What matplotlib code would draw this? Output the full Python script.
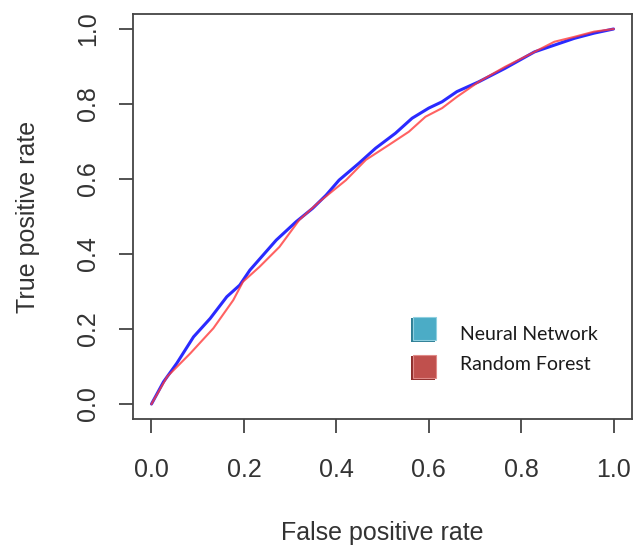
import matplotlib
matplotlib.use("Agg")
import matplotlib.pyplot as plt
from matplotlib.patches import Rectangle

# ROC curve values
nn_fpr = [0.0, 0.026, 0.055, 0.091, 0.127, 0.163, 0.191, 0.213, 0.270, 0.313,
          0.349, 0.378, 0.406, 0.449, 0.485, 0.528, 0.564, 0.600, 0.629, 0.661,
          0.708, 0.765, 0.829, 0.872, 0.915, 0.958, 1.0]
nn_tpr = [0.0, 0.059, 0.109, 0.179, 0.228, 0.286, 0.317, 0.357, 0.437, 0.486,
          0.522, 0.557, 0.597, 0.642, 0.682, 0.722, 0.762, 0.789, 0.806, 0.833,
          0.859, 0.895, 0.939, 0.957, 0.975, 0.989, 1.0]

rf_fpr = [0.0, 0.034, 0.084, 0.134, 0.177, 0.198, 0.234, 0.277, 0.320, 0.363,
          0.421, 0.464, 0.514, 0.557, 0.593, 0.629, 0.661, 0.708, 0.765, 0.829,
          0.872, 0.915, 0.958, 1.0]
rf_tpr = [0.0, 0.073, 0.135, 0.202, 0.277, 0.326, 0.366, 0.419, 0.491, 0.539,
          0.597, 0.651, 0.691, 0.726, 0.766, 0.789, 0.819, 0.859, 0.899, 0.939,
          0.966, 0.979, 0.993, 1.0]

ticks = [0.0, 0.2, 0.4, 0.6, 0.8, 1.0]
tick_labels = ["0.0", "0.2", "0.4", "0.6", "0.8", "1.0"]
legend_names = ["Neural Network", "Random Forest"]

W, H = 634, 545
fig = plt.figure(figsize=(W / 100, H / 100), dpi=100)
ax = fig.add_axes([133 / W, 1 - 419 / H, 499 / W, 405 / H])

ink = "#333333"
ax.plot(nn_fpr, nn_tpr, color="#2a2aff", lw=2.2, solid_capstyle="round")
ax.plot(rf_fpr, rf_tpr, color="#ff3b3b", lw=1.5, alpha=0.8)

ax.set_xlim(-0.04, 1.04)
ax.set_ylim(-0.04, 1.04)
ax.set_xticks(ticks)
ax.set_xticklabels(tick_labels)
ax.set_yticks(ticks)
ax.set_yticklabels(tick_labels, rotation=90, va="center")

font = "Liberation Sans"
for lab in ax.get_xticklabels() + ax.get_yticklabels():
    lab.set_fontfamily(font)
    lab.set_fontsize(18)
    lab.set_color(ink)

ax.tick_params(direction="out", length=10, width=1.3, color="#444444")
ax.tick_params(axis="x", pad=18)
ax.tick_params(axis="y", pad=14)
for s in ax.spines.values():
    s.set_color("#444444")
    s.set_linewidth(1.3)

ax.set_xlabel("False positive rate", fontfamily=font, fontsize=18, color=ink, labelpad=28)
ax.set_ylabel("True positive rate", fontfamily=font, fontsize=18, color=ink, labelpad=26)

# legend with shaded boxes
def px(x, y):
    return x / W, 1 - y / H

box_cols = [("#4bacc6", "#2f7f95", "#8fd0e0"), ("#c0504d", "#8e2f2d", "#e08a88")]
box_top = [316, 354]
text_y = [335, 365]
for name, (main, dark, light), bt, ty_px in zip(legend_names, box_cols, box_top, text_y):
    x0, y0 = px(411, bt + 26)
    fig.add_artist(Rectangle((x0, y0), 24 / W, 24 / H, transform=fig.transFigure,
                             facecolor=dark, edgecolor="none"))
    x1, y1 = px(413, bt + 24)
    fig.add_artist(Rectangle((x1, y1), 23 / W, 23 / H, transform=fig.transFigure,
                             facecolor=main, edgecolor=light, linewidth=0.8))
    tx, ty = px(460, ty_px)
    fig.text(tx, ty, name, fontfamily="Lato", fontsize=14, color="#1a1a1a",
             va="center", ha="left")

fig.savefig("out.png", dpi=100)
